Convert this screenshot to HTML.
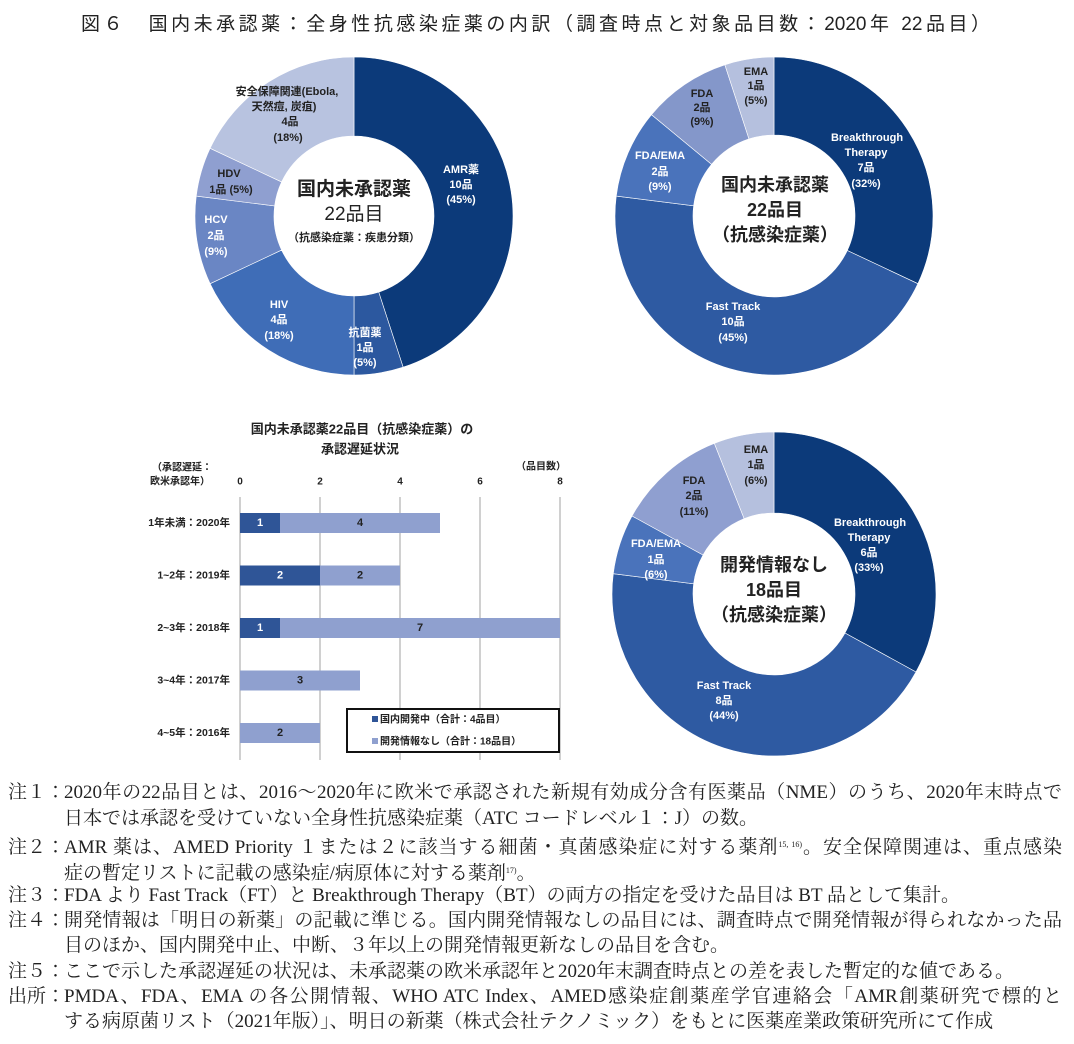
<!DOCTYPE html>
<html><head><meta charset="utf-8"><style>
body{margin:0;background:#fff;width:1074px;height:1044px;overflow:hidden;position:relative;font-family:"Liberation Sans","Noto Sans CJK JP",sans-serif}
.t{position:absolute;white-space:nowrap}
.n{position:absolute;left:8px;width:1054px;font-family:"Liberation Serif","Noto Serif CJK JP",serif;font-size:19px;color:#222;line-height:20px;white-space:nowrap}
.n span.h{display:inline-block;width:56px}
.j{text-align:justify;text-align-last:justify}
</style></head><body>
<div class="t j" style="left:81px;top:9px;width:909px;font-size:19px;color:#222">図６　国内未承認薬：全身性抗感染症薬の内訳（調査時点と対象品目数：2020年 22品目）</div>
<svg id="s" width="1074" height="1044" style="position:absolute;left:0;top:0" font-family="Liberation Sans, Noto Sans CJK JP, sans-serif"></svg>
<div class="n" style="top:783px"><span class="h">注１：</span><span class="j" style="display:inline-block;width:998px">2020年の22品目とは、2016～2020年に欧米で承認された新規有効成分含有医薬品（NME）のうち、2020年末時点で</span></div>
<div class="n" style="top:809px;left:64px;width:auto">日本では承認を受けていない全身性抗感染症薬（ATC コードレベル１：J）の数。</div>
<div class="n" style="top:835px"><span class="h">注２：</span><span class="j" style="display:inline-block;width:998px">AMR 薬は、AMED Priority １または２に該当する細菌・真菌感染症に対する薬剤<span style="font-size:8px;vertical-align:6px">15, 16)</span>。安全保障関連は、重点感染</span></div>
<div class="n" style="top:861px;left:64px;width:auto">症の暫定リストに記載の感染症/病原体に対する薬剤<span style="font-size:8px;vertical-align:6px">17)</span>。</div>
<div class="n" style="top:886px"><span class="h">注３：</span>FDA より Fast Track（FT）と Breakthrough Therapy（BT）の両方の指定を受けた品目は BT 品として集計。</div>
<div class="n" style="top:911px"><span class="h">注４：</span><span class="j" style="display:inline-block;width:998px">開発情報は「明日の新薬」の記載に準じる。国内開発情報なしの品目には、調査時点で開発情報が得られなかった品</span></div>
<div class="n" style="top:936px;left:64px;width:auto">目のほか、国内開発中止、中断、３年以上の開発情報更新なしの品目を含む。</div>
<div class="n" style="top:962px"><span class="h">注５：</span>ここで示した承認遅延の状況は、未承認薬の欧米承認年と2020年末調査時点との差を表した暫定的な値である。</div>
<div class="n" style="top:987px"><span class="h">出所：</span><span class="j" style="display:inline-block;width:998px">PMDA、FDA、EMA の各公開情報、WHO ATC Index、AMED感染症創薬産学官連絡会「AMR創薬研究で標的と</span></div>
<div class="n" style="top:1012px;left:64px;width:auto">する病原菌リスト（2021年版）」、明日の新薬（株式会社テクノミック）をもとに医薬産業政策研究所にて作成</div>
<script>
const s=document.getElementById('s');let h='';
function donut(cx,cy,R,r,parts){let a=0;const tot=parts.reduce((x,p)=>x+p[0],0);
for(const p of parts){const a0=a/tot*2*Math.PI,a1=(a+p[0])/tot*2*Math.PI;a+=p[0];
const P=(rr,t)=>[(cx+rr*Math.sin(t)).toFixed(2),(cy-rr*Math.cos(t)).toFixed(2)];
const l=(a1-a0)>Math.PI?1:0;const [x0,y0]=P(R,a0),[x1,y1]=P(R,a1),[x2,y2]=P(r,a1),[x3,y3]=P(r,a0);
h+=`<path d="M${x0} ${y0}A${R} ${R} 0 ${l} 1 ${x1} ${y1}L${x2} ${y2}A${r} ${r} 0 ${l} 0 ${x3} ${y3}Z" fill="${p[1]}" stroke="#fff" stroke-width="0.6"/>`;}}
function tx(x,y,str,sz,col,w){h+=`<text x="${x}" y="${y}" font-size="${sz}" fill="${col}" font-weight="${w||'bold'}" text-anchor="middle" dominant-baseline="middle">${str}</text>`;}
donut(354,216,159,80,[[45,'#0c3a7a'],[5,'#2c589f'],[18,'#3f6db7'],[9,'#6a86c4'],[5,'#8f9fd0'],[18,'#b8c3e0']]);
donut(774,216,159,81,[[32,'#0c3a7a'],[45,'#2e5aa2'],[9,'#4a73bb'],[9,'#8497ca'],[5,'#b5c0de']]);
donut(774,594,162,81,[[33,'#0c3a7a'],[44,'#2e5aa2'],[6,'#4a73bb'],[11,'#8f9fd0'],[6,'#b5c0de']]);
const W='#fff',D='#222';
tx(461,170,'AMR薬',11,W);tx(461,185,'10品',11,W);tx(461,200,'(45%)',11,W);
tx(365,333,'抗菌薬',11,W);tx(365,348,'1品',11,W);tx(365,363,'(5%)',11,W);
tx(279,305,'HIV',11,W);tx(279,320,'4品',11,W);tx(279,336,'(18%)',11,W);
tx(216,220,'HCV',11,W);tx(216,236,'2品',11,W);tx(216,252,'(9%)',11,W);
tx(229,174,'HDV',11,D);tx(231,190,'1品 (5%)',11,D);
tx(287,92,'安全保障関連(Ebola,',11,D);tx(284,107,'天然痘, 炭疽)',11,D);tx(290,122,'4品',11,D);tx(288,138,'(18%)',11,D);
tx(354,190,'国内未承認薬',19,D);tx(354,215,'22品目',19,D,'normal');tx(354,238,'（抗感染症薬：疾患分類）',11,D);
tx(867,138,'Breakthrough',11,W);tx(866,153,'Therapy',11,W);tx(866,168,'7品',11,W);tx(866,184,'(32%)',11,W);
tx(733,307,'Fast Track',11,W);tx(733,322,'10品',11,W);tx(733,338,'(45%)',11,W);
tx(660,156,'FDA/EMA',11,W);tx(660,172,'2品',11,W);tx(660,187,'(9%)',11,W);
tx(702,94,'FDA',11,D);tx(702,108,'2品',11,D);tx(702,122,'(9%)',11,D);
tx(756,72,'EMA',11,D);tx(756,86,'1品',11,D);tx(756,101,'(5%)',11,D);
tx(775,186,'国内未承認薬',18,D);tx(775,211,'22品目',18,D);tx(775,236,'（抗感染症薬）',18,D);
tx(870,523,'Breakthrough',11,W);tx(869,538,'Therapy',11,W);tx(869,553,'6品',11,W);tx(869,568,'(33%)',11,W);
tx(724,686,'Fast Track',11,W);tx(724,701,'8品',11,W);tx(724,716,'(44%)',11,W);
tx(656,544,'FDA/EMA',11,W);tx(656,560,'1品',11,W);tx(656,575,'(6%)',11,W);
tx(694,481,'FDA',11,D);tx(694,496,'2品',11,D);tx(694,512,'(11%)',11,D);
tx(756,450,'EMA',11,D);tx(756,465,'1品',11,D);tx(756,481,'(6%)',11,D);
tx(774,566,'開発情報なし',18,D);tx(774,591,'18品目',18,D);tx(774,616,'（抗感染症薬）',18,D);
tx(362,430,'国内未承認薬22品目（抗感染症薬）の',13,D);tx(360,450,'承認遅延状況',13,D);
tx(182,468,'（承認遅延：',10,D);tx(180,482,'欧米承認年）',10,D);tx(541,467,'（品目数）',10,D);
for(let i=0;i<=4;i++){const x=240+80*i;tx(x,482,String(2*i),10,D);h+=`<line x1="${x}" y1="497" x2="${x}" y2="760" stroke="#b0b0b0" stroke-width="1.2"/>`;}
const rows=[['1年未満：2020年',1,4],['1~2年：2019年',2,2],['2~3年：2018年',1,7],['3~4年：2017年',0,3],['4~5年：2016年',0,2]];
rows.forEach((r,i)=>{const y=523+i*52.5;h+=`<text x="230" y="${y}" font-size="10.5" font-weight="bold" fill="${D}" text-anchor="end" dominant-baseline="middle">${r[0]}</text>`;
if(r[1]){h+=`<rect x="240" y="${y-10}" width="${r[1]*40}" height="20" fill="#2f5597"/>`;tx(240+r[1]*20,y,r[1],11,W);}
h+=`<rect x="${240+r[1]*40}" y="${y-10}" width="${r[2]*40}" height="20" fill="#8fa0cf"/>`;tx(240+r[1]*40+r[2]*20,y,r[2],11,D);});
h+=`<rect x="347" y="709" width="212" height="43" fill="#fff" stroke="#111" stroke-width="2"/>`;
h+=`<rect x="372" y="716" width="6" height="6" fill="#2f5597"/><rect x="372" y="738" width="6" height="6" fill="#8fa0cf"/>`;
h+=`<text x="380" y="720" font-size="10" font-weight="bold" fill="${D}" dominant-baseline="middle">国内開発中（合計：4品目）</text>`;
h+=`<text x="380" y="742" font-size="10" font-weight="bold" fill="${D}" dominant-baseline="middle">開発情報なし（合計：18品目）</text>`;
s.innerHTML=h;
</script>
</body></html>
